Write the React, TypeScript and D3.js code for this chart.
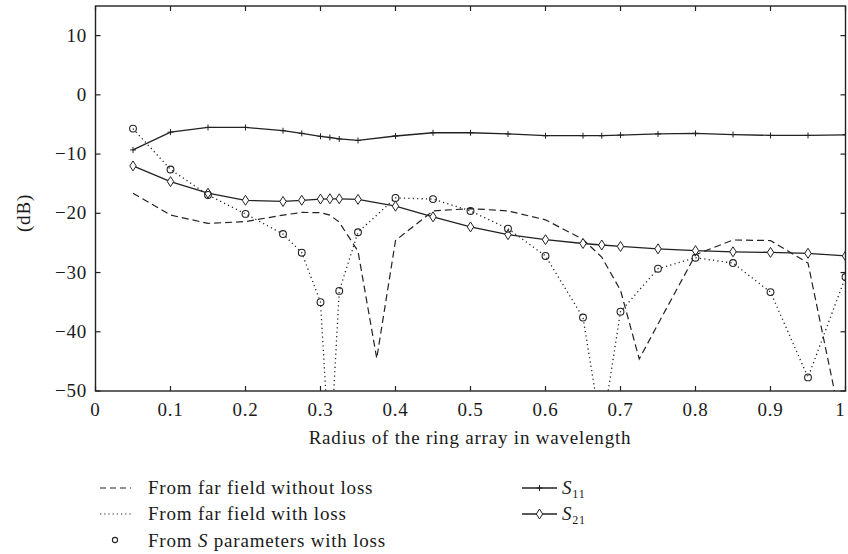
import React from 'react';
import * as d3 from 'd3';

// radius of the ring array (in wavelengths) and measured curves (dB)
const radiusS = [0.05, 0.1, 0.15, 0.2, 0.25, 0.275, 0.3, 0.3125, 0.325, 0.35, 0.4, 0.45, 0.5, 0.55, 0.6, 0.65, 0.675, 0.7, 0.75, 0.8, 0.85, 0.9, 0.95, 1.0];
const s11 = [-9.3, -6.3, -5.5, -5.5, -6.05, -6.5, -7.0, -7.2, -7.45, -7.7, -6.95, -6.4, -6.4, -6.6, -6.9, -6.9, -6.9, -6.8, -6.6, -6.5, -6.7, -6.85, -6.85, -6.75];
const s21 = [-12.0, -14.65, -16.6, -17.8, -18.0, -17.8, -17.6, -17.55, -17.55, -17.65, -18.8, -20.6, -22.3, -23.6, -24.45, -25.1, -25.35, -25.6, -26.0, -26.3, -26.5, -26.6, -26.75, -27.2];

const radiusNoLoss = [0.05, 0.1, 0.15, 0.2, 0.25, 0.275, 0.3, 0.3125, 0.325, 0.35, 0.375, 0.4, 0.45, 0.5, 0.55, 0.6, 0.65, 0.675, 0.7, 0.725, 0.75, 0.8, 0.85, 0.9, 0.95, 1.0];
const farNoLoss = [-16.6, -20.3, -21.7, -21.4, -20.3, -19.85, -19.9, -20.3, -21.5, -26.4, -44.5, -24.6, -19.6, -19.2, -19.6, -21.1, -24.4, -27.4, -33.0, -44.6, -38.7, -27.0, -24.5, -24.6, -28.4, -59];

const radiusLoss = [0.05, 0.1, 0.15, 0.2, 0.25, 0.275, 0.3, 0.3125, 0.325, 0.35, 0.4, 0.45, 0.5, 0.55, 0.6, 0.65, 0.675, 0.7, 0.75, 0.8, 0.85, 0.9, 0.95, 1.0];
const farLoss = [-5.7, -12.6, -16.9, -20.1, -23.5, -26.65, -35.0, -62, -33.1, -23.2, -17.4, -17.6, -19.6, -22.6, -27.2, -37.6, -57, -36.6, -29.35, -27.5, -28.4, -33.3, -47.7, -30.75];

const radiusSParam = [0.05, 0.1, 0.15, 0.2, 0.25, 0.275, 0.3, 0.325, 0.35, 0.4, 0.45, 0.5, 0.55, 0.6, 0.65, 0.7, 0.75, 0.8, 0.85, 0.9, 0.95, 1.0];
const sParamLoss = [-5.7, -12.6, -16.9, -20.1, -23.5, -26.65, -35.0, -33.1, -23.2, -17.4, -17.6, -19.6, -22.6, -27.2, -37.6, -36.6, -29.35, -27.5, -28.4, -33.3, -47.7, -30.75];

const xTicks = [0, 0.1, 0.2, 0.3, 0.4, 0.5, 0.6, 0.7, 0.8, 0.9, 1];
const yTicks = [-50, -40, -30, -20, -10, 0, 10];

const W = 848, H = 554;
const left = 95.5, right = 845.5, top = 6, bottom = 391;
const ink = '#222';
const font = '"Liberation Serif", "Times New Roman", serif';

const x = d3.scaleLinear().domain([0, 1]).range([left, right]);
const y = d3.scaleLinear().domain([-50, 15]).range([bottom, top]);

const zip = (xs: number[], ys: number[]) => xs.map((r, i) => [r, ys[i]] as [number, number]);
const line = d3.line<[number, number]>().x(d => x(d[0])).y(d => y(d[1]));

const fmtX = (v: number) => (v === 0 || v === 1 ? String(v) : v.toFixed(1));
const fmtY = (v: number) => (v < 0 ? '\u2212' + Math.abs(v) : String(v));

const Plus = ({cx, cy}: {cx: number; cy: number}) => (
    <path d={`M${cx - 3},${cy}H${cx + 3}M${cx},${cy - 3}V${cy + 3}`} stroke={ink} strokeWidth={1} />
);
const Diamond = ({cx, cy}: {cx: number; cy: number}) => (
    <path d={`M${cx},${cy - 5}L${cx + 3.2},${cy}L${cx},${cy + 5}L${cx - 3.2},${cy}Z`} fill="white" stroke={ink} strokeWidth={1} />
);

export default function App() {
    const dS11 = zip(radiusS, s11);
    const dS21 = zip(radiusS, s21);
    const textStyle = {fontFamily: font, fontSize: 19, fill: '#1a1a1a', letterSpacing: '0.8px'};

    return (
        <svg width={W} height={H} style={{position: 'absolute', left: 0, top: 0, background: 'white'}}>
            <defs>
                <clipPath id="plot">
                    <rect x={left} y={top} width={right - left} height={bottom - top} />
                </clipPath>
            </defs>

            {/* curves */}
            <g clipPath="url(#plot)" fill="none" stroke={ink}>
                <path d={line(zip(radiusNoLoss, farNoLoss)) || ''} strokeWidth={1.2} strokeDasharray="7,4" />
                <path d={line(zip(radiusLoss, farLoss)) || ''} strokeWidth={1.3} strokeDasharray="1.2,3.2" />
                <path d={line(dS11) || ''} strokeWidth={1.3} />
                <path d={line(dS21) || ''} strokeWidth={1.3} />
            </g>
            <g clipPath="url(#plot)">
                {dS11.map((d, i) => <Plus key={i} cx={x(d[0])} cy={y(d[1])} />)}
                {dS21.map((d, i) => <Diamond key={i} cx={x(d[0])} cy={y(d[1])} />)}
                {zip(radiusSParam, sParamLoss).map((d, i) => (
                    <circle key={i} cx={x(d[0])} cy={y(d[1])} r={3.4} fill="none" stroke={ink} strokeWidth={1.1} />
                ))}
            </g>

            {/* frame and ticks */}
            <rect x={left} y={top} width={right - left} height={bottom - top} fill="none" stroke={ink} strokeWidth={1.4} />
            {xTicks.map(t => (
                <g key={t}>
                    <line x1={x(t)} x2={x(t)} y1={bottom} y2={bottom - 5} stroke={ink} strokeWidth={1.2} />
                    <line x1={x(t)} x2={x(t)} y1={top} y2={top + 5} stroke={ink} strokeWidth={1.2} />
                    <text x={t === 1 ? x(t) - 5 : x(t)} y={416} textAnchor="middle" style={textStyle}>{fmtX(t)}</text>
                </g>
            ))}
            {yTicks.map(t => (
                <g key={t}>
                    <line x1={left} x2={left + 5} y1={y(t)} y2={y(t)} stroke={ink} strokeWidth={1.2} />
                    <line x1={right} x2={right - 5} y1={y(t)} y2={y(t)} stroke={ink} strokeWidth={1.2} />
                    <text x={87} y={y(t) + 6} textAnchor="end" style={textStyle}>{fmtY(t)}</text>
                </g>
            ))}

            <text x={470} y={444} textAnchor="middle" style={textStyle}>Radius of the ring array in wavelength</text>
            <text transform="translate(30,213) rotate(-90)" textAnchor="middle" style={textStyle}>(dB)</text>

            {/* legend */}
            <g>
                <line x1={100} x2={131} y1={488} y2={488} stroke={ink} strokeWidth={1.2} strokeDasharray="6,4" />
                <text x={148} y={494} style={textStyle}>From far field without loss</text>
                <line x1={100} x2={131} y1={514} y2={514} stroke={ink} strokeWidth={1.2} strokeDasharray="1.2,3" />
                <text x={148} y={520} style={textStyle}>From far field with loss</text>
                <circle cx={115} cy={540} r={2.6} fill="none" stroke={ink} strokeWidth={1.1} />
                <text x={148} y={547} style={textStyle}>From <tspan fontStyle="italic">S</tspan> parameters with loss</text>

                <line x1={522} x2={557} y1={488} y2={488} stroke={ink} strokeWidth={1.3} />
                <Plus cx={539.5} cy={488} />
                <text x={562} y={494} style={textStyle}><tspan fontStyle="italic">S</tspan><tspan fontSize={12} dy={4}>11</tspan></text>
                <line x1={522} x2={557} y1={514} y2={514} stroke={ink} strokeWidth={1.3} />
                <Diamond cx={539.5} cy={514} />
                <text x={562} y={520} style={textStyle}><tspan fontStyle="italic">S</tspan><tspan fontSize={12} dy={4}>21</tspan></text>
            </g>
        </svg>
    );
}
